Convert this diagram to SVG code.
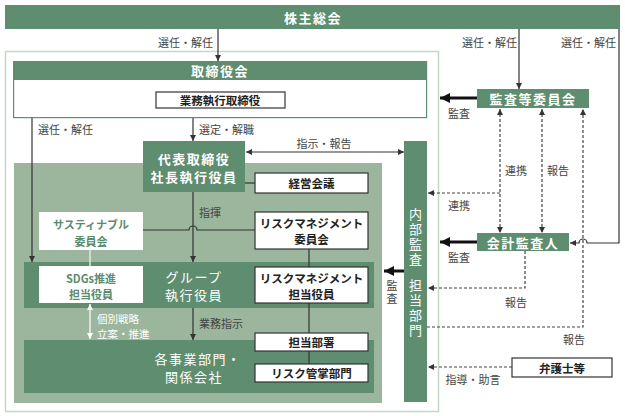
<svg xmlns="http://www.w3.org/2000/svg" width="625" height="416" viewBox="0 0 625 416">
<defs>
<style>
text{font-family:"Noto Sans CJK JP","Noto Sans CJK SC",sans-serif;dominant-baseline:central;}
.lbl{font-size:11px;fill:#444;}
.wlbl{font-size:10.5px;fill:#fff;}
.hd{font-size:13px;fill:#fff;font-weight:bold;text-anchor:middle;letter-spacing:1.5px;}
.wt{font-size:13px;fill:#fff;text-anchor:middle;letter-spacing:1.5px;}
.vt{font-size:13px;fill:#fff;text-anchor:middle;writing-mode:vertical-rl;letter-spacing:2px;}
.bx{font-size:11.5px;fill:#222;font-weight:bold;text-anchor:middle;}
.gt{font-size:11px;fill:#5b8c6c;font-weight:bold;text-anchor:middle;}
.dk{fill:#5e8e6f;}
.wb{fill:#fff;stroke:#333;stroke-width:1.2;}
.ln{fill:none;stroke:#333;stroke-width:1.2;}
.ds{fill:none;stroke:#444;stroke-width:1.2;stroke-dasharray:3 2;}
.th{fill:none;stroke:#111;stroke-width:3;}
</style>
<marker id="a" viewBox="0 0 10 10" refX="10" refY="5" markerWidth="6" markerHeight="6" markerUnits="userSpaceOnUse" orient="auto-start-reverse"><path d="M0,0 L10,5 L0,10 z" fill="#333"/></marker>
<marker id="aw" viewBox="0 0 10 10" refX="10" refY="5" markerWidth="6" markerHeight="6" markerUnits="userSpaceOnUse" orient="auto-start-reverse"><path d="M0,0 L10,5 L0,10 z" fill="#fff"/></marker>
<marker id="at" viewBox="0 0 10 10" refX="10" refY="5" markerWidth="10" markerHeight="10" markerUnits="userSpaceOnUse" orient="auto"><path d="M0,0 L10,5 L0,10 z" fill="#111"/></marker>
</defs>
<rect width="625" height="416" fill="#fff"/>

<!-- background regions -->
<g id="company-frame">
<rect x="5.5" y="51.5" width="433" height="360" fill="#fff" stroke="#c6d6c7" stroke-width="1.5"/>
</g>
<g id="exec-region">
<rect x="14" y="163" width="368" height="240" fill="#9bb69c"/>
<rect x="24" y="262" width="350" height="46" class="dk"/>
<rect x="24" y="340" width="350" height="53" class="dk"/>
</g>

<!-- connectors -->
<g id="connectors">
<line class="ln" x1="218" y1="29" x2="218" y2="61" marker-end="url(#a)"/>
<line class="ln" x1="519" y1="29" x2="519" y2="89" marker-end="url(#a)"/>
<path class="ln" d="M619,29 V243 H587 A4,4 0 0 0 579,243 H570" marker-end="url(#a)"/>
<line class="ln" x1="193" y1="118" x2="193" y2="141" marker-end="url(#a)"/>
<line class="ln" x1="32" y1="118" x2="32" y2="262" marker-end="url(#a)"/>
<line class="ln" x1="246" y1="152" x2="404" y2="152" marker-start="url(#a)" marker-end="url(#a)"/>
<line class="ln" x1="245" y1="183" x2="255" y2="183"/>
<line class="ln" x1="193" y1="192" x2="193" y2="262" marker-end="url(#a)"/>
<path class="ln" d="M143,230 H189 A4,4 0 0 1 197,230 H255"/>
<line class="ln" x1="309" y1="249" x2="309" y2="364"/>
<line class="ln" x1="193" y1="308" x2="193" y2="340" marker-end="url(#a)"/>
<line x1="90" y1="250" x2="90" y2="266" stroke="#dfe8df" stroke-width="1.5"/>
<line x1="90" y1="304" x2="90" y2="339" stroke="#eef3ee" stroke-width="1.5" marker-start="url(#aw)" marker-end="url(#aw)"/>
<line class="th" x1="404" y1="271" x2="384" y2="271" marker-end="url(#at)"/>
<line class="th" x1="477" y1="98" x2="440" y2="98" marker-end="url(#at)"/>
<line class="th" x1="477" y1="242" x2="440" y2="242" marker-end="url(#at)"/>
<line class="ds" x1="500" y1="109" x2="500" y2="233" marker-start="url(#a)" marker-end="url(#a)"/>
<line class="ds" x1="542" y1="109" x2="542" y2="233" marker-start="url(#a)" marker-end="url(#a)"/>
<line class="ds" x1="500" y1="193" x2="428" y2="193" marker-end="url(#a)"/>
<path class="ds" d="M525,251 V288 H428" marker-end="url(#a)"/>
<path class="ds" d="M427,327 H583 V109" marker-end="url(#a)"/>
<line class="ds" x1="512" y1="367" x2="428" y2="367" marker-end="url(#a)"/>
<text class="lbl" x="158" y="42">選任・解任</text>
<text class="lbl" x="462" y="42">選任・解任</text>
<text class="lbl" x="561" y="42">選任・解任</text>
<text class="lbl" x="38" y="129">選任・解任</text>
<text class="lbl" x="199" y="129">選定・解職</text>
<text class="lbl" x="324" y="143" text-anchor="middle">指示・報告</text>
<text class="lbl" x="199" y="212">指揮</text>
<text class="lbl" x="199" y="323">業務指示</text>
<text class="wlbl" x="97" y="318">個別戦略<tspan x="97" dy="14.5">立案・推進</tspan></text>
<text class="lbl" x="392" y="293" font-size="10" text-anchor="middle" writing-mode="vertical-rl" letter-spacing="2">監査</text>
<text class="lbl" x="448" y="113">監査</text>
<text class="lbl" x="448" y="257">監査</text>
<text class="lbl" x="505" y="170">連携</text>
<text class="lbl" x="547" y="170">報告</text>
<text class="lbl" x="448" y="205">連携</text>
<text class="lbl" x="516" y="302" text-anchor="middle">報告</text>
<text class="lbl" x="574" y="339" text-anchor="middle">報告</text>
<text class="lbl" x="473" y="379" text-anchor="middle">指導・助言</text>
</g>

<!-- nodes -->
<g id="shareholders">
<rect x="5" y="5" width="615" height="24" class="dk"/>
<text class="hd" x="313" y="17" font-size="13.5">株主総会</text>
</g>
<g id="board">
<rect x="13.6" y="61.6" width="413" height="56" fill="#fff" stroke="#5e8e6f" stroke-width="1.2"/>
<rect x="13" y="61" width="414" height="19" class="dk"/>
<text class="hd" x="220" y="70.5">取締役会</text>
</g>
<g id="exec-director">
<rect x="156" y="92" width="129" height="16" class="wb"/>
<text class="bx" x="220" y="100">業務執行取締役</text>
</g>
<g id="president">
<rect x="143" y="141" width="102" height="51" class="dk"/>
<text class="hd" x="194" y="158" font-size="12.5">代表取締役<tspan x="194" dy="17.5">社長執行役員</tspan></text>
</g>
<g id="mgmt-meeting">
<rect x="255" y="173" width="113" height="20" class="wb"/>
<text class="bx" x="311.5" y="183">経営会議</text>
</g>
<g id="rm-committee">
<rect x="255" y="212" width="113" height="37" class="wb"/>
<text class="bx" x="311.5" y="223" font-size="11">リスクマネジメント<tspan x="311.5" dy="16">委員会</tspan></text>
</g>
<g id="rm-officer">
<rect x="255" y="267" width="113" height="36" class="wb"/>
<text class="bx" x="311.5" y="278" font-size="11">リスクマネジメント<tspan x="311.5" dy="15.5">担当役員</tspan></text>
</g>
<g id="dept-in-charge">
<rect x="255" y="333" width="113" height="18" class="wb"/>
<text class="bx" x="311.5" y="342">担当部署</text>
</g>
<g id="risk-dept">
<rect x="255" y="364" width="113" height="18" class="wb"/>
<text class="bx" x="311.5" y="373">リスク管掌部門</text>
</g>
<g id="sustainability">
<rect x="39" y="212" width="104" height="38" fill="#fff"/>
<text class="gt" x="91" y="224">サスティナブル<tspan x="91" dy="17">委員会</tspan></text>
</g>
<g id="sdgs">
<rect x="39" y="266" width="104" height="37" fill="#fff"/>
<text class="gt" x="91" y="278" font-size="11.5">SDGs推進<tspan x="91" dy="16">担当役員</tspan></text>
</g>
<g id="group-officers">
<text class="wt" x="194" y="276">グループ<tspan x="194" dy="18">執行役員</tspan></text>
</g>
<g id="business-units">
<text class="wt" x="198" y="358">各事業部門・<tspan x="194" dy="18">関係会社</tspan></text>
</g>
<g id="internal-audit">
<rect x="404" y="141" width="23" height="261" class="dk"/>
<text class="vt" x="415.5" y="237.5">内部監査</text>
<text class="vt" x="415.5" y="308.5">担当部門</text>
</g>
<g id="audit-committee">
<rect x="477" y="89" width="112" height="19" class="dk"/>
<text class="hd" x="533" y="98.5">監査等委員会</text>
</g>
<g id="accounting-auditor">
<rect x="477" y="233" width="92" height="18" class="dk"/>
<text class="hd" x="523" y="242">会計監査人</text>
</g>
<g id="lawyers">
<rect x="512" y="358" width="100" height="19" class="wb"/>
<text class="bx" x="562" y="367.5">弁護士等</text>
</g>
</svg>
